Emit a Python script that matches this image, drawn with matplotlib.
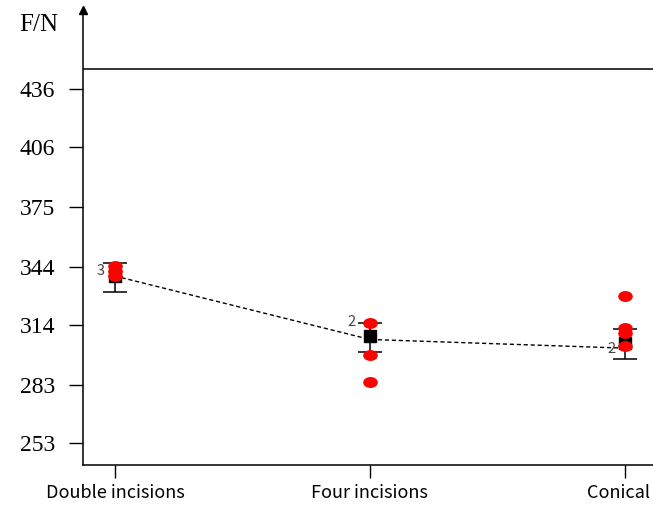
import matplotlib.pyplot as plt
from matplotlib.path import Path
from matplotlib.transforms import Affine2D, ScaledTranslation

groups = ["Double incisions", "Four incisions", "Conical"]
points = [
    [344.5, 342.0, 339.5],
    [315.1, 298.5, 284.7],
    [329.2, 312.6, 310.0, 303.3],
]
means = [339.3, 308.3, 304.7]
err_low = [330.9, 300.0, 296.4]
err_high = [346.2, 315.1, 311.8]
trend = [339.3, 306.5, 302.0]
counts = ["3", "2", "2"]
count_y = [341.9, 315.6, 301.6]
yticks = [253, 283, 314, 344, 375, 406, 436]
ref_line = 446.3

ellipse = Path.unit_circle().transformed(Affine2D().scale(1.0, 0.72))

fig = plt.figure(figsize=(6.53, 5.08), dpi=100)
ax = fig.add_axes([83 / 653, 43 / 508, 1 - 83 / 653, 455 / 508])

xs = list(range(len(groups)))
yerr = [[m - lo for m, lo in zip(means, err_low)],
        [hi - m for m, hi in zip(means, err_high)]]

ax.plot(xs, trend, ls=(0, (3, 2)), color="black", lw=1.0, zorder=1)
ax.errorbar(xs, means, yerr=yerr, fmt="none", ecolor="black",
            elinewidth=1.1, capsize=8.5, capthick=1.1, zorder=2)
ax.plot(xs, means, "s", color="black", ms=8.5, zorder=3)
for i, vals in enumerate(points):
    ax.plot([i] * len(vals), vals, ls="none", marker=ellipse, ms=9.5,
            color="red", mec="red", zorder=4)

for i, (c, cy) in enumerate(zip(counts, count_y)):
    ax.annotate(c, (i, cy), xytext=(-10 if i != 1 else -13, 0),
                textcoords="offset points", ha="center", va="center",
                fontsize=10.5, color="#444444", family="Noto Sans CJK SC")

ax.axhline(ref_line, color="black", lw=1.1)

ax.set_xlim(-0.125, 2.11)
ax.set_ylim(241.6, 476.8)
ax.set_yticks(yticks)
ax.set_yticklabels([str(t) for t in yticks], family="Liberation Serif",
                   fontsize=17)
ax.set_xticks(xs)
ax.set_xticklabels(groups, family="Noto Sans CJK SC", fontsize=13)
ax.tick_params(axis="y", length=10, width=1, pad=10)
ax.tick_params(axis="x", length=9, width=1, pad=5)

# keep the last label inside the figure
last = ax.get_xticklabels()[-1]
last.set_transform(last.get_transform()
                   + ScaledTranslation(-6 / 100, 0, fig.dpi_scale_trans))

for side in ["top", "right"]:
    ax.spines[side].set_visible(False)
for side in ["left", "bottom"]:
    ax.spines[side].set_linewidth(1.1)

ax.plot(0, 1, marker="^", color="black", ms=6, transform=ax.transAxes,
        clip_on=False)

fig.text(39 / 653, 1 - 25 / 508, "F/N", family="Liberation Serif",
         fontsize=18, ha="center", va="center")

fig.savefig("out.png", dpi=100)
